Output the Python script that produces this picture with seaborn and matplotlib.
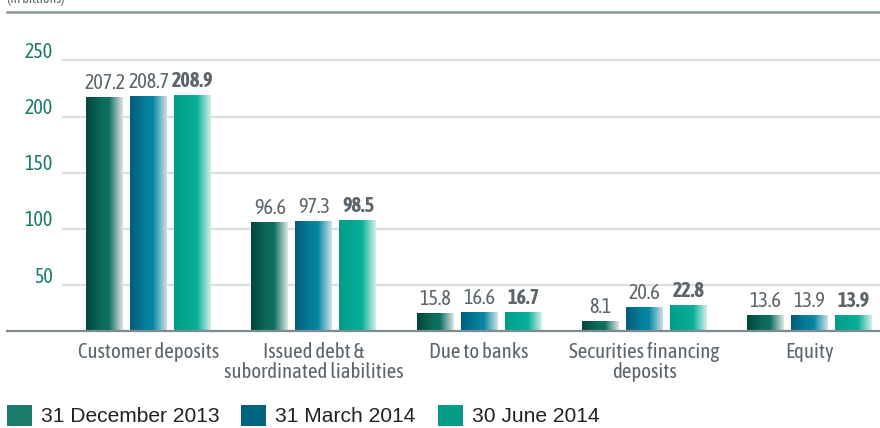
import numpy as np
import pandas as pd
import matplotlib
matplotlib.use('Agg')
from matplotlib import pyplot as plt
from matplotlib import font_manager
from matplotlib.colors import LinearSegmentedColormap
from matplotlib.patches import Patch
import seaborn as sns

categories = ['Customer deposits', 'Issued debt &\nsubordinated liabilities', 'Due to banks',
              'Securities financing\ndeposits', 'Equity']
periods = ['31 December 2013', '31 March 2014', '30 June 2014']
dec_2013 = [207.2, 96.6, 15.8, 8.1, 13.6]
mar_2014 = [208.7, 97.3, 16.6, 20.6, 13.9]
jun_2014 = [208.9, 98.5, 16.7, 22.8, 13.9]
y_ticks = [50, 100, 150, 200, 250]

legend_colors = ['#1a7a6b', '#00637f', '#009e89']
# left -> middle -> faded right edge of each bar
gradients = [['#03463b', '#0b6c5c', '#0d6f60', '#e2e6e4'],
             ['#005c7c', '#03819c', '#0786a1', '#cfe2ec'],
             ['#009e88', '#04ab96', '#07ae99', '#d6f0ea']]

df = pd.DataFrame({
    'category': categories * 3,
    'period': np.repeat(periods, len(categories)),
    'value': dec_2013 + mar_2014 + jun_2014,
})

sns.set_style('white')
fonts = font_manager.fontManager.ttflist
narrow_names = sorted({f.name for f in fonts if 'Narrow' in f.name or 'Condensed' in f.name})
# prefer a narrow family that also ships a bold face
with_bold = [n for n in narrow_names
             if any(f.name == n and f.weight in ('bold', 700, 'heavy', 800) for f in fonts)]
if with_bold:
    narrow = with_bold[0]
elif narrow_names:
    narrow = narrow_names[0]
else:
    narrow = 'Liberation Sans'
plt.rcParams['font.family'] = [narrow, 'DejaVu Sans']

fig = plt.figure(figsize=(8.8, 4.28), dpi=100)
ax = fig.add_axes([0.008, 0.2266, 0.992, 0.7454])

sns.barplot(data=df, x='category', y='value', hue='period', order=categories,
            hue_order=periods, width=0.8, gap=0.16, legend=False, ax=ax)

xlim = (-0.858, 4.427)
ylim = (0, 283.5)

# swap the flat patches for horizontal gradients
for i, period in enumerate(periods):
    cmap = LinearSegmentedColormap.from_list(
        'g%d' % i, list(zip([0, 0.45, 0.62, 1.0], gradients[i])))
    grad = np.linspace(0, 1, 256).reshape(1, -1)
    for j in range(len(categories)):
        p = ax.patches[i * len(categories) + j]
        x0, w, h = p.get_x(), p.get_width(), p.get_height()
        p.set_visible(False)
        ax.imshow(grad, extent=[x0, x0 + w, 0, h], aspect='auto', cmap=cmap,
                  zorder=3, interpolation='bicubic')
        bold = 'bold' if i == 2 else 'normal'
        ax.text(x0 + w / 2, h + 4, '%.1f' % h, ha='center', va='bottom',
                fontsize=14.5, color='#5b656c', fontweight=bold, zorder=4)

# gridlines sit a little under their labels, as in the source
for t in y_ticks:
    ax.axhline(t - 9.5, xmin=0.064, xmax=1, color='#dcdfdf', lw=1.6, zorder=1)

ax.set_xlim(xlim)
ax.set_ylim(ylim)
ax.set_yticks(y_ticks)
ax.set_yticklabels([str(t) for t in y_ticks], color='#1c7a6e', fontsize=14.5)
ax.tick_params(axis='y', length=0, pad=-33)
for lab in ax.get_yticklabels():
    lab.set_horizontalalignment('right')
ax.tick_params(axis='x', length=0, pad=8)
ax.set_xticks(range(len(categories)))
ax.set_xticklabels(categories, fontsize=15, color='#5b656c', linespacing=1.0)
ax.set_xlabel('')
ax.set_ylabel('')

for s in ['left', 'right']:
    ax.spines[s].set_visible(False)
ax.spines['top'].set_color('#8b969b')
ax.spines['top'].set_linewidth(1.8)
ax.spines['bottom'].set_color('#7f8b91')
ax.spines['bottom'].set_linewidth(1.6)
ax.spines['bottom'].set_zorder(5)

fig.text(0.008, 0.985, '(in billions)', fontsize=10, color='#5b656c', va='bottom')

handles = [Patch(facecolor=c, edgecolor='none') for c in legend_colors]
fig.legend(handles, periods, loc='lower left', bbox_to_anchor=(-0.002, -0.016), ncol=3,
           frameon=False, handlelength=1.2, handleheight=1.2,
           handletextpad=0.42, columnspacing=1.05, borderaxespad=0,
           prop={'family': ['Liberation Sans', 'DejaVu Sans'], 'size': 15.1})
for txt in fig.legends[0].get_texts():
    txt.set_color('#222222')

fig.savefig('out.png', dpi=100)
